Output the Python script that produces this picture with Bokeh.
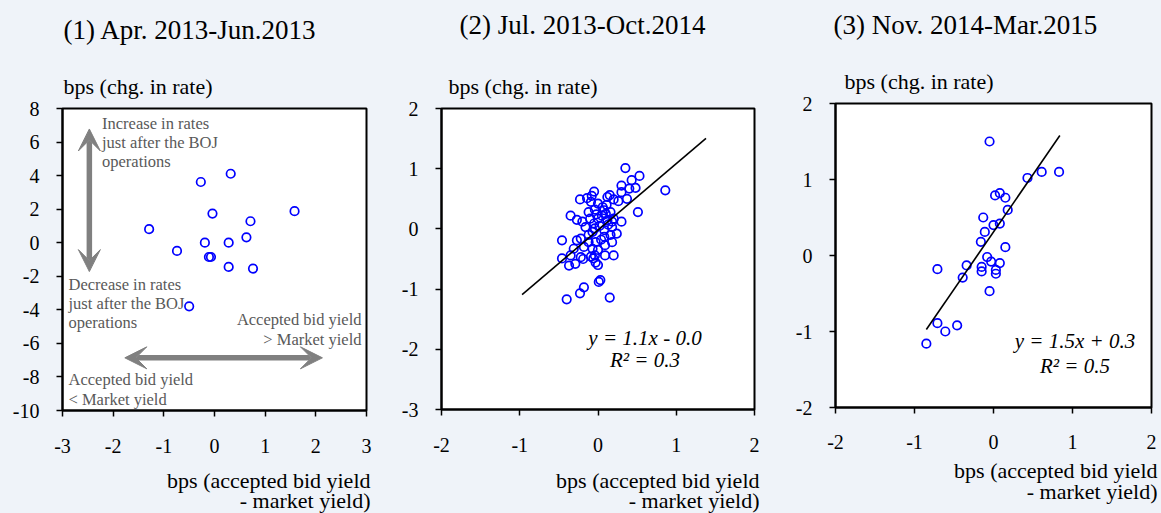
from bokeh.plotting import figure
from bokeh.layouts import row, column
from bokeh.models import Label, Arrow, VeeHead, FixedTicker, Range1d, Title
from bokeh.embed import file_html
from bokeh.resources import INLINE

# ---------------- data ----------------
titles = ["(1) Apr. 2013-Jun.2013", "(2) Jul. 2013-Oct.2014", "(3) Nov. 2014-Mar.2015"]
y_title = "bps (chg. in rate)"
x_title = ["bps (accepted bid yield", "- market yield)"]

p1_x = [-1.29, -0.74, -0.27, -0.19, -0.04, -0.11, -0.07, 0.32, 0.28, 0.28, 0.63, 0.71, 0.76, 1.58, -0.50]
p1_y = [0.81, -0.49, 3.62, 0.00, 1.74, -0.85, -0.85, 4.11, 0.00, -1.44, 0.32, 1.28, -1.54, 1.88, -3.79]

p2_x = [0.35, 0.53, 0.43, 0.30, 0.48, 0.40, 0.30, 0.86,
        -0.05, -0.08, -0.14, -0.23, -0.09, 0.15, 0.12, 0.20, 0.26, 0.37, 0.00, 0.11, 0.06, -0.04, 0.08, 0.16, 0.51,
        -0.35, -0.27, -0.20, -0.10, -0.05, 0.00, 0.12, 0.20, 0.30, 0.18, -0.02, 0.05, 0.10, -0.12,
        -0.16, -0.04, 0.08, 0.18, 0.24, 0.16, 0.08, -0.12, 0.02, -0.07, 0.13,
        -0.22, -0.27, -0.46, -0.03, 0.09, 0.18, -0.18, -0.31, -0.07, 0.00, 0.04, -0.12,
        -0.35, -0.46, -0.22, -0.09, -0.04, 0.09, 0.20, -0.37, -0.29, -0.03, -0.06, 0.00, -0.19,
        0.01, 0.03, -0.18, -0.23, -0.40, 0.15]
p2_y = [1.01, 0.88, 0.81, 0.72, 0.68, 0.67, 0.61, 0.64,
        0.62, 0.55, 0.51, 0.49, 0.45, 0.56, 0.53, 0.49, 0.46, 0.50, 0.42, 0.40, 0.36, 0.32, 0.31, 0.28, 0.28,
        0.22, 0.15, 0.12, 0.17, 0.09, 0.17, 0.14, 0.17, 0.12, 0.12, 0.24, 0.22, 0.25, 0.28,
        0.03, 0.01, -0.02, 0.03, -0.08, -0.10, -0.13, -0.10, 0.05, -0.05, 0.07,
        -0.16, -0.19, -0.19, -0.22, -0.27, -0.22, -0.30, -0.33, -0.33, -0.35, -0.18, -0.22,
        -0.44, -0.49, -0.47, -0.46, -0.44, -0.44, -0.44, -0.61, -0.58, -0.56, -0.49, -0.60, -0.50,
        -0.88, -0.85, -0.97, -1.07, -1.17, -1.14]

p3_x = [-0.05, 0.43, 0.61, 0.83, 0.02, 0.08, 0.15, 0.18, -0.13, -0.11, 0.00, 0.08, -0.16, 0.15, -0.08,
        -0.03, 0.08, 0.03, 0.03, -0.15, -0.15, -0.34, -0.39, -0.71, -0.05, -0.71, -0.61, -0.46, -0.85]
p3_y = [1.50, 1.02, 1.10, 1.10, 0.79, 0.82, 0.76, 0.60, 0.50, 0.31, 0.40, 0.42, 0.18, 0.11, -0.02,
        -0.08, -0.10, -0.19, -0.24, -0.15, -0.21, -0.13, -0.29, -0.18, -0.47, -0.89, -1.00, -0.92, -1.16]

fit2 = {"slope": 1.105, "intercept": -0.02, "x": [-0.97, 1.38]}
fit3 = {"slope": 1.51, "intercept": 0.31, "x": [-0.85, 0.84]}
eq2 = ["y = 1.1x - 0.0", "R² = 0.3"]
eq3 = ["y = 1.5x + 0.3", "R² = 0.5"]

p1_xticks = [-3, -2, -1, 0, 1, 2, 3]
p1_yticks = [-10, -8, -6, -4, -2, 0, 2, 4, 6, 8]
p2_xticks = [-2, -1, 0, 1, 2]
p2_yticks = [-3, -2, -1, 0, 1, 2]
p3_xticks = [-2, -1, 0, 1, 2]
p3_yticks = [-2, -1, 0, 1, 2]

notes_up = ["Increase in rates", "just after the BOJ", "operations"]
notes_down = ["Decrease in rates", "just after the BOJ", "operations"]
notes_gt = ["Accepted bid yield", "> Market yield"]
notes_lt = ["Accepted bid yield", "< Market yield"]

# ---------------- style / layout ----------------
BG = "#EFF3F9"
FONT = "Liberation Serif"
H = 513


def strip(x0, w, y0, y1):
    s = figure(width=w, height=y1 - y0, x_range=Range1d(x0, x0 + w), y_range=Range1d(y1, y0),
               x_axis_type=None, y_axis_type=None, output_backend="svg", toolbar_location=None,
               min_border=0, frame_align=False)
    s.min_border_left = s.min_border_right = s.min_border_top = s.min_border_bottom = 0
    s.background_fill_color = BG
    s.border_fill_color = BG
    s.outline_line_color = None
    s.grid.visible = False
    return s


def strip_text(s, sx, sy, txt, size, align="left"):
    s.add_layout(Label(x=sx, y=sy, text=txt, text_font=FONT, text_font_size=size,
                       text_align=align, text_baseline="middle", text_color="black"))


class Panel:
    def __init__(self, x0, width, L, R, T, B, top_h, bot_y, x_standoff, xr, yr, xticks, yticks):
        self.x0, self.width, self.L, self.R, self.T, self.B = x0, width, L, R, T, B
        self.top_h, self.bot_y = top_h, bot_y
        self.xr, self.yr = xr, yr
        p = figure(width=width, height=bot_y - top_h, x_range=Range1d(*xr), y_range=Range1d(*yr),
                   output_backend="svg", toolbar_location=None, frame_align=False,
                   min_border_left=L - x0, min_border_right=x0 + width - R,
                   min_border_top=T - top_h, min_border_bottom=bot_y - B)
        p.background_fill_color = "white"
        p.border_fill_color = BG
        p.outline_line_color = "black"
        p.outline_line_width = 2
        p.grid.visible = False
        p.xaxis.ticker = FixedTicker(ticks=xticks)
        p.yaxis.ticker = FixedTicker(ticks=yticks)
        p.xaxis.major_label_overrides = {t: str(t) for t in xticks}
        p.yaxis.major_label_overrides = {t: str(t) for t in yticks}
        for ax in (p.xaxis, p.yaxis):
            ax.axis_line_width = 2
            ax.axis_line_color = "black"
            ax.major_tick_line_width = 1.5
            ax.major_tick_line_color = "black"
            ax.major_tick_out = 6
            ax.major_tick_in = 0
            ax.minor_tick_out = 0
            ax.minor_tick_in = 0
            ax.major_label_text_font = FONT
            ax.major_label_text_font_size = "20px"
            ax.major_label_text_color = "black"
        p.xaxis.major_label_standoff = x_standoff
        p.yaxis.major_label_standoff = 17
        self.p = p
        self.top = strip(x0, width, 0, top_h)
        self.bot = strip(x0, width, bot_y, H)

    def dx(self, sx):
        return self.xr[0] + (sx - self.L) / (self.R - self.L) * (self.xr[1] - self.xr[0])

    def dy(self, sy):
        return self.yr[1] - (sy - self.T) / (self.B - self.T) * (self.yr[1] - self.yr[0])

    def text(self, sx, sy, txt, size="20px", align="left", color="black", style="normal"):
        self.p.add_layout(Label(x=self.dx(sx), y=self.dy(sy), text=txt, text_font=FONT,
                                text_font_size=size, text_align=align, text_baseline="middle",
                                text_color=color, text_font_style=style))

    def ytitle(self, sx):
        self.p.add_layout(Title(text=y_title, align="left", offset=sx - self.L, standoff=20,
                                text_font=FONT, text_font_size="22px", text_font_style="normal",
                                text_color="black", vertical_align="bottom"), "above")

    def title(self, sx, sy, txt):
        strip_text(self.top, sx, sy, txt, "27px")

    def xtitle(self, sx, sy1, sy2):
        strip_text(self.bot, sx, sy1, x_title[0], "22px", "right")
        strip_text(self.bot, sx, sy2, x_title[1], "22px", "right")

    def column(self):
        return column(self.top, self.p, self.bot, styles={"background-color": BG})


def scatter(panel, xs, ys):
    panel.p.scatter(xs, ys, marker="circle", size=8.5, fill_color=None,
                    line_color="#0000FF", line_width=1.7)


def fitline(panel, fit):
    ys = [fit["slope"] * x + fit["intercept"] for x in fit["x"]]
    panel.p.line(fit["x"], ys, line_color="black", line_width=1.6)


# ---------- panel 1 ----------
P1 = Panel(0, 385, 62, 366, 108, 410, 50, 463, 22, (-3, 3), (-10, 8), p1_xticks, p1_yticks)
scatter(P1, p1_x, p1_y)
GREY = "#808080"
for (xs, ys, xe, ye) in [(-2.47, -1.72, -2.47, 6.78), (-1.77, -6.86, 2.13, -6.86)]:
    P1.p.add_layout(Arrow(start=VeeHead(size=22, fill_color=GREY, line_color=GREY),
                          end=VeeHead(size=22, fill_color=GREY, line_color=GREY),
                          x_start=xs, y_start=ys, x_end=xe, y_end=ye,
                          line_color=GREY, line_width=5.5))
NOTE = "#595959"
for i, t in enumerate(notes_up):
    P1.text(101.5, 122.5 + 19 * i, t, size="16.5px", color=NOTE)
for i, t in enumerate(notes_down):
    P1.text(68, 284 + 19 * i, t, size="16.5px", color=NOTE)
for i, t in enumerate(notes_gt):
    P1.text(361, 318.5 + 20 * i, t, size="16.5px", align="right", color=NOTE)
for i, t in enumerate(notes_lt):
    P1.text(68, 378.5 + 20 * i, t, size="16.5px", color=NOTE)
P1.ytitle(63)
P1.title(63, 29, titles[0])
P1.xtitle(370, 480, 500)

# ---------- panel 2 ----------
P2 = Panel(385, 390, 441, 754, 108, 409, 50, 463, 22, (-2, 2), (-3, 2), p2_xticks, p2_yticks)
scatter(P2, p2_x, p2_y)
fitline(P2, fit2)
P2.text(644.5, 337, eq2[0], size="21px", align="center", style="italic")
P2.text(644.5, 359, eq2[1], size="21px", align="center", style="italic")
P2.ytitle(448)
P2.title(459, 24, titles[1])
P2.xtitle(759, 480, 500)

# ---------- panel 3 ----------
P3 = Panel(775, 386, 835, 1151, 103, 407, 45, 458, 21, (-2, 2), (-2, 2), p3_xticks, p3_yticks)
scatter(P3, p3_x, p3_y)
fitline(P3, fit3)
P3.text(1074.5, 340, eq3[0], size="21px", align="center", style="italic")
P3.text(1074.5, 365, eq3[1], size="21px", align="center", style="italic")
P3.ytitle(844)
P3.title(833, 24, titles[2])
P3.xtitle(1157, 470, 491)

layout = row(P1.column(), P2.column(), P3.column(), styles={"background-color": BG})
open("out.html", "w").write(file_html(layout, INLINE))
